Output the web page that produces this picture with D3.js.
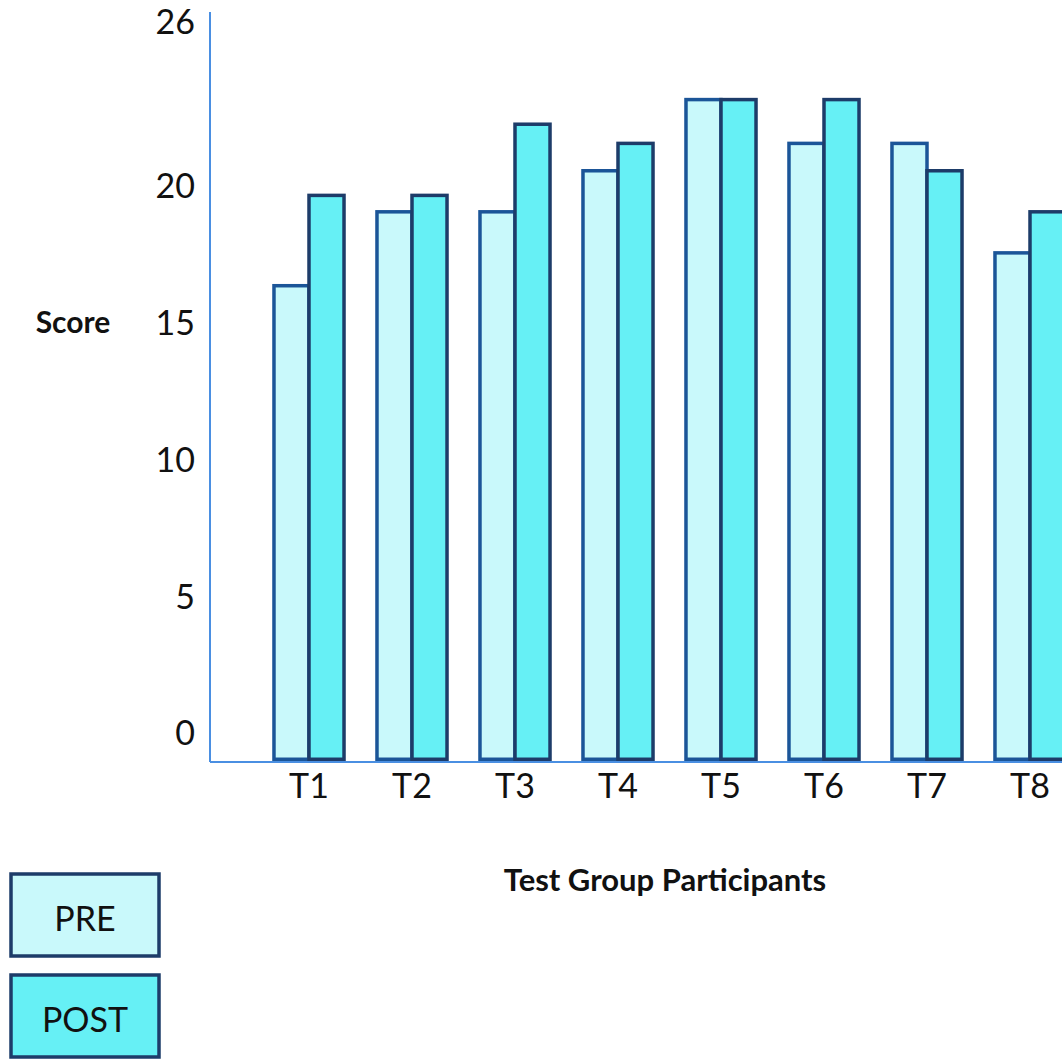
<!DOCTYPE html>
<html>
<head>
<meta charset="utf-8">
<script src="https://cdn.jsdelivr.net/npm/d3@7"></script>
<style>
  html, body { margin: 0; padding: 0; background: #fff; }
  svg { display: block; }
  text { font-family: Lato, "Open Sans", sans-serif; fill: #111; }
</style>
</head>
<body>
<svg id="chart" width="1062" height="1059"></svg>
<script>
// Participants and their pre/post test scores
const participants = ["T1", "T2", "T3", "T4", "T5", "T6", "T7", "T8"];
const preScores  = [16.3, 19.0, 19.0, 20.5, 23.1, 21.5, 21.5, 17.5];
const postScores = [19.6, 19.6, 22.2, 21.5, 23.1, 23.1, 20.5, 19.0];
const yTickValues = [0, 5, 10, 15, 20, 26];
const seriesNames = ["PRE", "POST"];

// Bars rise from a floor slightly below zero, as on the printed axis
const BAR_FLOOR = -1;

const colors = {
  PRE:  { fill: "#c9f9fb", stroke: "#1b5598" },
  POST: { fill: "#66f0f5", stroke: "#1d3c69" }
};

const svg = d3.select("#chart");

const plot = { left: 210, right: 1062, top: 12, bottom: 762 };

const y = d3.scaleLinear()
  .domain([-1.1, 26.3])
  .range([plot.bottom, plot.top]);

const x = d3.scaleBand()
  .domain(participants)
  .range([257.5, 257.5 + 103 * participants.length])
  .paddingInner(0.32)
  .paddingOuter(0.16);

const xSeries = d3.scaleBand()
  .domain(seriesNames)
  .range([0, x.bandwidth()]);

// Bars: PRE first, POST on top
const rows = participants.map((p, i) => ({ p, PRE: preScores[i], POST: postScores[i] }));

seriesNames.forEach(s => {
  svg.append("g")
    .selectAll("rect")
    .data(rows)
    .join("rect")
      .attr("x", d => x(d.p) + xSeries(s))
      .attr("width", xSeries.bandwidth())
      .attr("y", d => y(d[s]))
      .attr("height", d => y(BAR_FLOOR) - y(d[s]))
      .attr("fill", colors[s].fill)
      .attr("stroke", colors[s].stroke)
      .attr("stroke-width", 3.5);
});

// Axis lines
svg.append("line")
  .attr("x1", plot.left).attr("x2", plot.left)
  .attr("y1", plot.top).attr("y2", plot.bottom)
  .attr("stroke", "#4a8fe2").attr("stroke-width", 2);
svg.append("line")
  .attr("x1", plot.left).attr("x2", plot.right)
  .attr("y1", plot.bottom).attr("y2", plot.bottom)
  .attr("stroke", "#4a8fe2").attr("stroke-width", 2);

// Y tick labels
svg.append("g")
  .selectAll("text")
  .data(yTickValues)
  .join("text")
    .attr("x", 195)
    .attr("y", d => y(d))
    .attr("text-anchor", "end")
    .attr("dominant-baseline", "central")
    .style("font-size", "34px")
    .text(d => d);

// X category labels
svg.append("g")
  .selectAll("text")
  .data(participants)
  .join("text")
    .attr("x", d => x(d) + x.bandwidth() / 2)
    .attr("y", 784)
    .attr("text-anchor", "middle")
    .attr("dominant-baseline", "central")
    .style("font-size", "34px")
    .text(d => d);

// Axis titles
svg.append("text")
  .attr("x", 73).attr("y", 321)
  .attr("text-anchor", "middle")
  .attr("dominant-baseline", "central")
  .style("font-size", "30px").style("font-weight", "700")
  .text("Score");

svg.append("text")
  .attr("x", 665).attr("y", 879)
  .attr("text-anchor", "middle")
  .attr("dominant-baseline", "central")
  .style("font-size", "31px").style("font-weight", "700")
  .text("Test Group Participants");

// Legend
const legend = svg.append("g")
  .selectAll("g")
  .data(seriesNames)
  .join("g")
    .attr("transform", (d, i) => `translate(11, ${874 + i * 101})`);

legend.append("rect")
  .attr("width", 148).attr("height", 82)
  .attr("fill", d => colors[d].fill)
  .attr("stroke", "#1d3c69")
  .attr("stroke-width", 3.5);

legend.append("text")
  .attr("x", 74).attr("y", 43)
  .attr("text-anchor", "middle")
  .attr("dominant-baseline", "central")
  .style("font-size", "34px")
  .text(d => d);
</script>
</body>
</html>
